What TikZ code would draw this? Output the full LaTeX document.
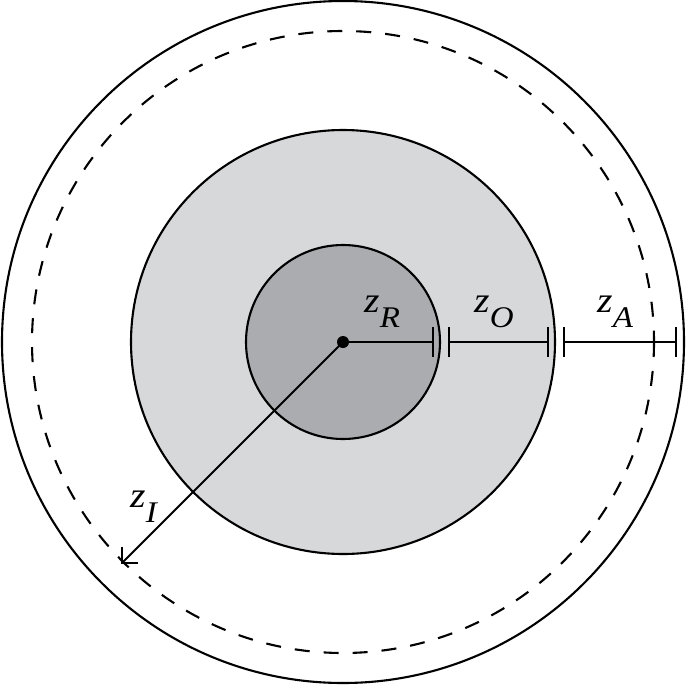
\documentclass[tikz,border=0pt]{standalone}
\usepackage{graphicx}
\usepackage{fontspec}
\setmainfont{Liberation Serif}
\usetikzlibrary{arrows.meta}
\definecolor{lightgrey}{HTML}{D7D8DA}
\definecolor{darkgrey}{HTML}{ABACAF}
\begin{document}
\begin{tikzpicture}[x=1pt,y=-1pt,line width=2.1pt,
  lbl/.style={anchor=base west,inner sep=0pt,font=\fontsize{36}{36}\selectfont\itshape}]
\useasboundingbox (0,0) rectangle (686,686);
\coordinate (c) at (343,342);
\draw (c) circle[radius=341];
\draw[dash pattern=on 15pt off 14pt] (c) circle[radius=311];
\filldraw[fill=lightgrey] (c) circle[radius=212];
\filldraw[fill=darkgrey] (c) circle[radius=97];
% dimensions
\coordinate (r1) at (433,342);
\coordinate (o0) at (449,342);
\coordinate (o1) at (548,342);
\coordinate (a0) at (564,342);
\coordinate (a1) at (676,342);
\draw (c) -- (r1);
\draw ([yshift=-15pt]r1) -- ([yshift=15pt]r1);
\draw (o0) -- (o1);
\draw ([yshift=-15pt]o0) -- ([yshift=15pt]o0);
\draw ([yshift=-15pt]o1) -- ([yshift=15pt]o1);
\draw (a0) -- (a1);
\draw ([yshift=-15pt]a0) -- ([yshift=15pt]a0);
\draw ([yshift=-15pt]a1) -- ([yshift=15pt]a1);
\coordinate (tipI) at (121,564);
\draw[-{Straight Barb[length=11pt,width=22pt]}] (c) -- (tipI);
\fill (c) circle[radius=6];
% labels
\newcommand{\zsub}[1]{\scalebox{1.1}[1]{z}\hspace{0.5pt}\raisebox{-15pt}{\scalebox{1.1}[1]{\fontsize{30}{30}\selectfont #1}}}
\node[lbl] (zR) at (363,312) {\zsub{R}};
\node[lbl] (zO) at (473,312) {\zsub{O}};
\node[lbl] (zA) at (596,312) {\zsub{A}};
\node[lbl] (zI) at (129,507) {\zsub{I}};
\end{tikzpicture}
\end{document}
